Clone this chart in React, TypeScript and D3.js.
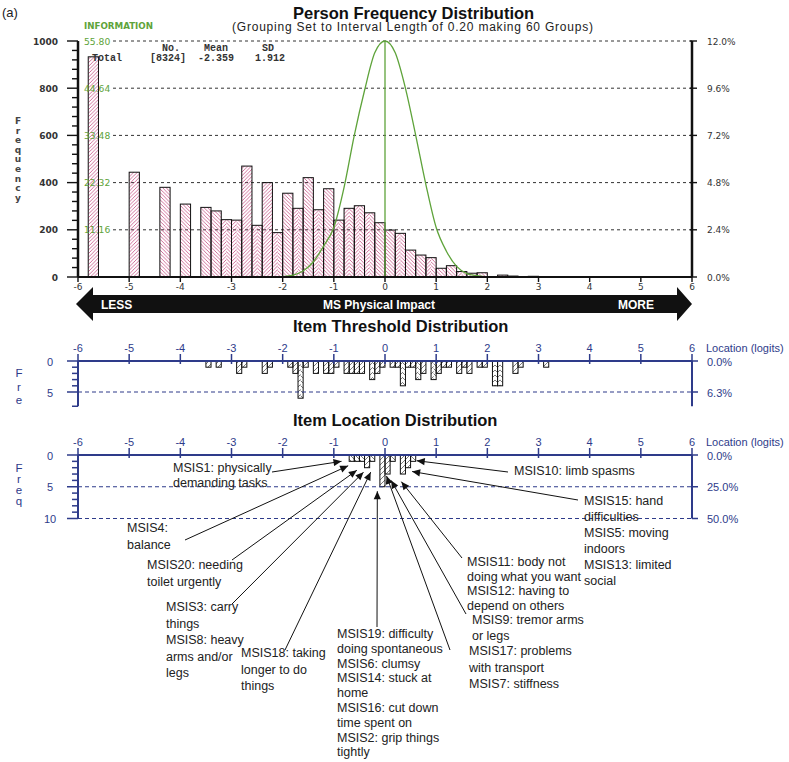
import * as d3 from 'd3'

// person frequency histogram: left edge of each 0.2 logit group, count, hatch style
const personBins = [-5.8, -5.0, -4.4, -4.0, -3.6, -3.4, -3.2, -3.0, -2.8, -2.6, -2.4, -2.2, -2.0, -1.8, -1.6, -1.4, -1.2, -1.0, -0.8, -0.6, -0.4, -0.2, 0.0, 0.2, 0.4, 0.6, 0.8, 1.0, 1.2, 1.4, 1.6, 1.8, 2.2, 2.4, 2.8]
const personCounts = [933, 444, 380, 309, 295, 280, 243, 241, 470, 219, 400, 188, 355, 291, 421, 285, 374, 241, 291, 302, 272, 230, 199, 185, 114, 93, 82, 37, 48, 23, 16, 18, 8, 4, 3]
const personHatch = ['f', 'f', 'b', 'b', 'b', 'b', 'c', 'c', 'f', 'c', 'f', 'c', 'b', 'c', 'b', 'c', 'b', 'c', 'c', 'c', 'c', 'b', 'b', 'c', 'b', 'b', 'c', 'b', 'b', 'c', 'b', 'b', 'b', 'b', 'b']

// test information curve
const infoX = [-6, -2.2, -2.0, -1.8, -1.6, -1.4, -1.2, -1.0, -0.8, -0.6, -0.4, -0.2, 0, 0.2, 0.4, 0.6, 0.8, 1.0, 1.2, 1.4, 1.6, 1.8, 2.0, 2.2, 6]
const infoY = [0, 0, 0.1, 0.45, 1.4, 3.6, 7.3, 11.7, 21.2, 33.5, 44.1, 53.0, 55.8, 53.0, 44.6, 33.5, 21.8, 11.7, 6.1, 2.5, 0.8, 0.3, 0.05, 0, 0]

// item thresholds: left edge of 0.1 logit group and count
const thrBins = [-3.5, -3.3, -2.9, -2.8, -2.4, -2.3, -1.9, -1.8, -1.7, -1.6, -1.4, -1.2, -1.1, -1.0, -0.8, -0.7, -0.6, -0.5, -0.3, -0.2, -0.1, 0.1, 0.2, 0.3, 0.4, 0.5, 0.6, 0.7, 0.9, 1.0, 1.1, 1.2, 1.4, 1.5, 1.6, 1.8, 1.9, 2.1, 2.2, 2.5, 2.6, 3.1]
const thrCounts = [1, 1, 2, 1, 2, 1, 1, 2, 6, 1, 2, 2, 2, 1, 2, 2, 2, 2, 3, 2, 1, 1, 1, 4, 1, 1, 3, 2, 3, 2, 1, 1, 2, 1, 2, 1, 1, 4, 4, 2, 1, 1]

// item locations
const itemBins = [-0.7, -0.6, -0.5, -0.4, -0.3, -0.1, 0.0, 0.1, 0.3, 0.4, 0.5]
const itemCounts = [1, 1, 1, 2, 1, 5, 3, 1, 3, 2, 1]

const freqTicks = [0, 200, 400, 600, 800, 1000]
const infoLabels = ['', '11.16', '22.32', '33.48', '44.64', '55.80']
const pctLabels = ['0.0%', '2.4%', '4.8%', '7.2%', '9.6%', '12.0%']
const logitTicks = [-6, -5, -4, -3, -2, -1, 0, 1, 2, 3, 4, 5, 6]
const thrTicks = [0, 5]
const thrPct = ['0.0%', '6.3%']
const itemTicks = [0, 5, 10]
const itemPct = ['0.0%', '25.0%', '50.0%']

// item labels: text lines, arrow target (logit, count)
const notes = [
  { lines: ['MSIS1: physically', 'demanding tasks'], to: [-0.85, 1.0] },
  { lines: ['MSIS4:', 'balance'], to: [-0.72, 1.7] },
  { lines: ['MSIS20: needing', 'toilet urgently'], to: [-0.55, 2.4] },
  { lines: ['MSIS3: carry', 'things', 'MSIS8: heavy', 'arms and/or', 'legs'], to: [-0.42, 2.7] },
  { lines: ['MSIS18: taking', 'longer to do', 'things'], to: [-0.28, 2.7] },
  { lines: ['MSIS19: difficulty', 'doing spontaneous', 'MSIS6: clumsy', 'MSIS14: stuck at', 'home', 'MSIS16: cut down', 'time spent on', 'MSIS2: grip things', 'tightly'], to: [-0.15, 5.7] },
  { lines: ['MSIS17: problems', 'with transport', 'MSIS7: stiffness'], to: [0.03, 3.3] },
  { lines: ['MSIS9: tremor arms', 'or legs'], to: [0.12, 4.0] },
  { lines: ['MSIS11: body not', 'doing what you want', 'MSIS12: having to', 'depend on others'], to: [0.32, 4.2] },
  { lines: ['MSIS15: hand', 'difficulties', 'MSIS5: moving', 'indoors', 'MSIS13: limited', 'social'], to: [0.53, 2.6] },
  { lines: ['MSIS10: limb spasms'], to: [0.62, 0.9] },
]
// where each label sits and where its arrow starts (pixels)
const noteLayout = [
  { x: 173, y: 472, lh: 15, from: [272, 472] },
  { x: 127, y: 532, lh: 16.5, from: [185, 540] },
  { x: 147, y: 569, lh: 16.5, from: [232, 560] },
  { x: 166, y: 611, lh: 16.5, from: [232, 604] },
  { x: 241, y: 657, lh: 16.5, from: [285, 650] },
  { x: 337, y: 638, lh: 14.8, from: [377, 627] },
  { x: 469, y: 655, lh: 16.5, from: [450, 650] },
  { x: 472, y: 624, lh: 15.5, from: [466, 614] },
  { x: 467, y: 566, lh: 14.5, from: [462, 558] },
  { x: 584, y: 505, lh: 16, from: [578, 500] },
  { x: 514, y: 475, lh: 16, from: [508, 472] },
]

const x = d3.scaleLinear().domain([-6, 6]).range([78, 692])
const yFreq = d3.scaleLinear().domain([0, 1000]).range([277, 41])
const yInfo = d3.scaleLinear().domain([0, 55.8]).range([277, 41])
const yThr = d3.scaleLinear().domain([0, 5]).range([361, 392])
const yItem = d3.scaleLinear().domain([0, 10]).range([455, 518.5])

const SANS = '"Liberation Sans", Arial, sans-serif'
const DV = '"DejaVu Sans", Verdana, sans-serif'
const MONO = '"Liberation Mono", "Courier New", monospace'
const NAVY = '#2e3b8a'
const GREEN = '#5ea33a'
const PINK = '#c2407a'

const infoLine = d3
  .line<number>()
  .x((d, i) => x(infoX[i]))
  .y((d) => yInfo(d))
  .curve(d3.curveMonotoneX)

const HatchBar = ({ x0, x1, y0, y1, kind, pf, pb }) => {
  const w = x1 - x0
  return (
    <g>
      {kind === 'c' ? (
        <>
          <rect x={x0} y={y0} width={w / 2} height={y1 - y0} fill={`url(#${pf})`} />
          <rect x={x0 + w / 2} y={y0} width={w / 2} height={y1 - y0} fill={`url(#${pb})`} />
        </>
      ) : (
        <rect x={x0} y={y0} width={w} height={y1 - y0} fill={`url(#${kind === 'f' ? pf : pb})`} />
      )}
      <rect x={x0} y={y0} width={w} height={y1 - y0} fill='none' stroke='#111' strokeWidth={1} />
    </g>
  )
}

const LowerAxes = ({ y, ticks, pct, letters, letterY, letterStep }) => {
  const y0 = y(0)
  const yMax = y(ticks[ticks.length - 1])
  const bottom = ticks.length > 2 ? yMax : y(7.3)
  return (
    <g>
      {/* dashed count lines */}
      {ticks.slice(1).map((t) => (
        <line key={t} x1={x(-6)} x2={x(6)} y1={y(t)} y2={y(t)} stroke={NAVY} strokeWidth={1.2} strokeDasharray='4,3' />
      ))}
      {/* top logit axis */}
      <line x1={x(-6)} x2={x(6)} y1={y0} y2={y0} stroke={NAVY} strokeWidth={2} />
      {logitTicks.map((t) => (
        <g key={t}>
          <line x1={x(t)} x2={x(t)} y1={y0 - 7} y2={y0 + 3} stroke={NAVY} strokeWidth={1.5} />
          <text x={x(t)} y={y0 - 9} textAnchor='middle' fontFamily={SANS} fontSize={11} fill={NAVY}>{t}</text>
        </g>
      ))}
      <text x={706} y={y0 - 9} fontFamily={SANS} fontSize={11} fill={NAVY}>Location (logits)</text>
      {/* left count axis */}
      <line x1={x(-6)} x2={x(-6)} y1={y0} y2={bottom} stroke={NAVY} strokeWidth={2} />
      {d3.range(0, ticks[ticks.length - 1] + 1).filter((v) => y(v) <= bottom + 0.5).map((v) => (
        <line key={v} x1={ticks.includes(v) ? x(-6) - 11 : x(-6) - 6} x2={x(-6)} y1={y(v)} y2={y(v)} stroke={NAVY} strokeWidth={1.5} />
      ))}
      {ticks.length === 2 && <line x1={x(-6) - 6} x2={x(-6)} y1={bottom} y2={bottom} stroke={NAVY} strokeWidth={1.5} />}
      {ticks.map((t) => (
        <text key={t} x={50} y={y(t) + 4.5} textAnchor='middle' fontFamily={SANS} fontSize={11} fill={NAVY}>{t}</text>
      ))}
      {/* right percent axis */}
      <line x1={x(6)} x2={x(6)} y1={y0} y2={bottom} stroke={NAVY} strokeWidth={2} />
      {ticks.map((t, i) => (
        <g key={t}>
          <line x1={x(6)} x2={x(6) + 6} y1={y(t)} y2={y(t)} stroke={NAVY} strokeWidth={1.5} />
          <text x={707} y={y(t) + 4.5} fontFamily={SANS} fontSize={11} fill={NAVY}>{pct[i]}</text>
        </g>
      ))}
      {letters.split('').map((c, i) => (
        <text key={i} x={19} y={letterY + i * letterStep} textAnchor='middle' fontFamily={SANS} fontSize={11.5} fill={NAVY}>{c}</text>
      ))}
    </g>
  )
}

export default function App() {
  const pw = x(0.2) - x(0)
  const tw = x(0.1) - x(0)
  return (
    <svg width={789} height={762} style={{ position: 'absolute', left: 0, top: 0, background: '#fff' }}>
      <defs>
        <pattern id='pf' patternUnits='userSpaceOnUse' width={3.6} height={3.6}>
          <path d='M-1,1 l2,-2 M0,3.6 l3.6,-3.6 M2.6,4.6 l2,-2' stroke={PINK} strokeWidth={0.75} />
        </pattern>
        <pattern id='pb' patternUnits='userSpaceOnUse' width={3.6} height={3.6}>
          <path d='M-1,2.6 l2,2 M0,0 l3.6,3.6 M2.6,-1 l2,2' stroke={PINK} strokeWidth={0.75} />
        </pattern>
        <pattern id='kf' patternUnits='userSpaceOnUse' width={5} height={5}>
          <path d='M-1,1 l2,-2 M0,5 l5,-5 M4,6 l2,-2' stroke='#222' strokeWidth={0.6} />
        </pattern>
        <pattern id='kb' patternUnits='userSpaceOnUse' width={5} height={5}>
          <path d='M-1,4 l2,2 M0,0 l5,5 M4,-1 l2,2' stroke='#222' strokeWidth={0.6} />
        </pattern>
        <marker id='ah' viewBox='0 0 10 10' refX={10} refY={5} markerWidth={9} markerHeight={8} orient='auto' markerUnits='userSpaceOnUse'>
          <path d='M0,0.5 L10,5 L0,9.5 z' fill='#111' />
        </marker>
      </defs>

      <text x={2} y={17} fontFamily={SANS} fontSize={13} fill='#222'>(a)</text>

      {/* ---------- Person frequency distribution ---------- */}
      <text x={293} y={18.5} fontFamily={SANS} fontSize={16.5} fontWeight='bold' fill='#111'>Person Frequency Distribution</text>
      <text x={232} y={31} fontFamily={SANS} fontSize={12} fill='#222' textLength={361} lengthAdjust='spacing'>(Grouping Set to Interval Length of  0.20  making  60  Groups)</text>
      <text x={84} y={29} fontFamily={DV} fontSize={8} fontWeight='bold' fill={GREEN} textLength={69} lengthAdjust='spacingAndGlyphs'>INFORMATION</text>

      {freqTicks.slice(1).map((t) => (
        <line key={t} x1={113} x2={x(6)} y1={yFreq(t)} y2={yFreq(t)} stroke='#333' strokeWidth={1} strokeDasharray='3,3' />
      ))}

      {personBins.map((b, i) => (
        <HatchBar key={i} x0={x(b)} x1={x(b) + pw} y0={yFreq(personCounts[i])} y1={yFreq(0)} kind={personHatch[i]} pf='pf' pb='pb' />
      ))}

      <path d={infoLine(infoY)} fill='none' stroke={GREEN} strokeWidth={1.3} />
      <line x1={x(0)} x2={x(0)} y1={yFreq(0)} y2={yFreq(1000)} stroke={GREEN} strokeWidth={1.3} />

      {freqTicks.slice(1).map((t, i) => (
        <text key={t} x={84} y={yFreq(t) + 3.5} fontFamily={DV} fontSize={9.2} fill={GREEN}>{infoLabels[i + 1]}</text>
      ))}

      {/* left frequency axis */}
      <line x1={x(-6)} x2={x(-6)} y1={yFreq(1000)} y2={yFreq(0)} stroke='#111' strokeWidth={2.5} />
      {d3.range(0, 1001, 40).map((v) => (
        <line key={v} x1={v % 200 === 0 ? x(-6) - 11 : x(-6) - 6} x2={x(-6)} y1={yFreq(v)} y2={yFreq(v)} stroke='#111' strokeWidth={1.4} />
      ))}
      {freqTicks.map((t) => (
        <text key={t} x={58} y={yFreq(t) + 3.5} textAnchor='end' fontFamily={DV} fontSize={9} fontWeight='bold' fill='#333'>{t}</text>
      ))}
      {'Frequency'.split('').map((c, i) => (
        <text key={i} x={18} y={124 + i * 9.6} textAnchor='middle' fontFamily={DV} fontSize={9} fontWeight='bold' fill='#444'>{c}</text>
      ))}

      {/* right percent axis */}
      <line x1={x(6)} x2={x(6)} y1={yFreq(1000)} y2={yFreq(0)} stroke='#111' strokeWidth={2.5} />
      {freqTicks.map((t, i) => (
        <g key={t}>
          <line x1={x(6) - 2} x2={x(6) + 5} y1={yFreq(t)} y2={yFreq(t)} stroke='#111' strokeWidth={1.4} />
          <text x={707} y={yFreq(t) + 3.5} fontFamily={DV} fontSize={9} fill='#333'>{pctLabels[i]}</text>
        </g>
      ))}

      {/* bottom logit axis */}
      <line x1={x(-6)} x2={x(6)} y1={yFreq(0)} y2={yFreq(0)} stroke='#111' strokeWidth={2} />
      {logitTicks.map((t) => (
        <g key={t}>
          <line x1={x(t)} x2={x(t)} y1={yFreq(0)} y2={yFreq(0) + 5} stroke='#111' strokeWidth={1.4} />
          <text x={x(t)} y={yFreq(0) + 13} textAnchor='middle' fontFamily={DV} fontSize={9} fill='#333'>{t}</text>
        </g>
      ))}

      {/* summary statistics */}
      <g fontFamily={MONO} fontSize={10} fontWeight='bold' fill='#333'>
        <text x={162} y={51}>No.</text>
        <text x={204} y={51}>Mean</text>
        <text x={262} y={51}>SD</text>
        <text x={92} y={60.5}>Total</text>
        <text x={150} y={60.5}>[8324]</text>
        <text x={198} y={60.5}>-2.359</text>
        <text x={255} y={60.5}>1.912</text>
      </g>

      {/* direction arrow */}
      <path
        d={`M${x(-6) - 2},304 L${x(-6) + 15},287 L${x(-6) + 15},295 L${x(6) - 15},295 L${x(6) - 15},287 L${x(6)},304 L${x(6) - 15},321 L${x(6) - 15},313 L${x(-6) + 15},313 L${x(-6) + 15},321 Z`}
        fill='#111'
      />
      <g fontFamily={SANS} fontSize={12} fontWeight='bold' fill='#fff'>
        <text x={101} y={308.5}>LESS</text>
        <text x={323} y={308.5}>MS Physical Impact</text>
        <text x={618} y={308.5}>MORE</text>
      </g>

      {/* ---------- Item threshold distribution ---------- */}
      <text x={293} y={331.5} fontFamily={SANS} fontSize={16.5} fontWeight='bold' fill='#111'>Item Threshold Distribution</text>
      {thrBins.map((b, i) => (
        <HatchBar key={i} x0={x(b)} x1={x(b) + tw} y0={yThr(0)} y1={yThr(thrCounts[i])} kind={thrCounts[i] >= 3 ? 'c' : 'f'} pf='kf' pb='kb' />
      ))}
      <LowerAxes y={yThr} ticks={thrTicks} pct={thrPct} letters='Fre' letterY={377} letterStep={13.5} />

      {/* ---------- Item location distribution ---------- */}
      <text x={293} y={426} fontFamily={SANS} fontSize={16.5} fontWeight='bold' fill='#111'>Item Location Distribution</text>
      {itemBins.map((b, i) => (
        <HatchBar key={i} x0={x(b)} x1={x(b) + tw} y0={yItem(0)} y1={yItem(itemCounts[i])} kind={itemCounts[i] >= 2 ? 'f' : 'b'} pf='kf' pb='kb' />
      ))}
      <LowerAxes y={yItem} ticks={itemTicks} pct={itemPct} letters='Freq' letterY={472} letterStep={11} />

      {/* item labels with arrows */}
      {notes.map((n, i) => {
        const L = noteLayout[i]
        return (
          <g key={i}>
            <text fontFamily={SANS} fontSize={12.5} fill='#222'>
              {n.lines.map((ln, j) => (
                <tspan key={j} x={L.x} y={L.y + j * L.lh}>{ln}</tspan>
              ))}
            </text>
            <line x1={L.from[0]} y1={L.from[1]} x2={x(n.to[0])} y2={yItem(n.to[1])} stroke='#111' strokeWidth={1} markerEnd='url(#ah)' />
          </g>
        )
      })}
    </svg>
  )
}
